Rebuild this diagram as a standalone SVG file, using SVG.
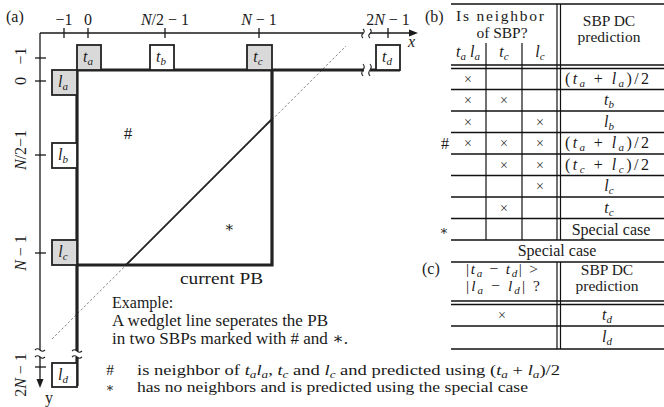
<svg xmlns="http://www.w3.org/2000/svg" width="664" height="407" viewBox="0 0 664 407" font-family="'Liberation Serif', 'DejaVu Serif', serif">
<style>
text{font-family:"Liberation Serif","DejaVu Serif",serif;fill:#1a1a1a;font-size:16px}
.it{font-style:italic}
.s{font-size:11px;font-style:italic}
.mid{text-anchor:middle}
.thin{stroke:#1a1a1a;stroke-width:1.3;fill:none}
.thick{stroke:#222;stroke-width:3.2;fill:none}
.box{stroke:#222;stroke-width:1.8}
.gray{fill:#d9d9d9}
.wh{fill:#fff}
.tl{stroke:#111;stroke-width:1.7;fill:none}
.vl{stroke:#111;stroke-width:1.2;fill:none}
.x{font-size:14px;fill:#333}
.sq{stroke:#222;stroke-width:1.1;fill:none}
.b{font-size:15.5px}
</style>

<text x="6" y="22">(a)</text>

<g id="axes">
  <line class="thin" x1="40" y1="33" x2="411" y2="33"/>
  <polygon points="409,29.5 418,33 409,36.5" fill="#1a1a1a"/>
  <line class="thin" x1="40" y1="33" x2="40" y2="381"/>
  <polygon points="36.5,379 40,388 43.5,379" fill="#1a1a1a"/>
  <g class="thin">
    <line x1="64" y1="28" x2="64" y2="38"/>
    <line x1="88" y1="28" x2="88" y2="38"/>
    <line x1="165" y1="28" x2="165" y2="38"/>
    <line x1="259" y1="28" x2="259" y2="38"/>
    <line x1="388" y1="28" x2="388" y2="38"/>
    <line x1="35" y1="58" x2="46" y2="58"/>
    <line x1="35" y1="81" x2="46" y2="81"/>
    <line x1="35" y1="155" x2="46" y2="155"/>
    <line x1="35" y1="253" x2="46" y2="253"/>
    <line x1="35" y1="367" x2="46" y2="367"/>
  </g>
  <rect x="363" y="29" width="7" height="9" fill="#fff"/>
  <path class="sq" d="M363,29 q2.5,2.2 0,4.5 q-2.5,2.2 0,4.5 M370,29 q2.5,2.2 0,4.5 q-2.5,2.2 0,4.5"/>
  <rect x="35" y="350" width="11" height="7" fill="#fff"/>
  <path class="sq" d="M35,350 q2.5,-2.5 5,0 q2.5,2.5 5,0 M35,357 q2.5,-2.5 5,0 q2.5,2.5 5,0"/>
  <text class="mid" x="64" y="25">−1</text>
  <text class="mid" x="88" y="25">0</text>
  <text class="mid" x="165" y="25"><tspan class="it">N</tspan>/2 − 1</text>
  <text class="mid" x="259" y="25"><tspan class="it">N</tspan> − 1</text>
  <text class="mid" x="388" y="25">2<tspan class="it">N</tspan> − 1</text>
  <text class="it" x="408" y="47">x</text>
  <text x="45" y="403">y</text>
  <text class="mid" transform="translate(26,56) rotate(-90)">−1</text>
  <text class="mid" transform="translate(26,81) rotate(-90)">0</text>
  <text class="mid" transform="translate(26,150) rotate(-90)"><tspan class="it">N</tspan>/2−1</text>
  <text class="mid" transform="translate(26,253) rotate(-90)"><tspan class="it">N</tspan> − 1</text>
  <text class="mid" transform="translate(26,375) rotate(-90)">2<tspan class="it">N</tspan> − 1</text>
</g>

<g id="wedglet">
  <line x1="52" y1="339" x2="346" y2="46" stroke="#888" stroke-width="1" stroke-dasharray="2.5,2"/>
  <line x1="126" y1="265" x2="272" y2="119" stroke="#222" stroke-width="1.8"/>
</g>

<g id="pb">
  <path class="thick" d="M77,70 H400 M77,70 V386 M77,265 H272 V70"/>
  <rect x="364" y="64" width="6" height="12" fill="#fff"/>
  <path class="sq" d="M363,64 q2.5,3 0,6 q-2.5,3 0,6 M370,64 q2.5,3 0,6 q-2.5,3 0,6"/>
  <rect x="72" y="351" width="10" height="6" fill="#fff"/>
  <path class="sq" d="M72,351 q2.5,-2.5 5,0 q2.5,2.5 5,0 M72,357 q2.5,-2.5 5,0 q2.5,2.5 5,0"/>
  <text x="180" y="284" textLength="83" lengthAdjust="spacingAndGlyphs">current PB</text>
  <text class="mid" x="128" y="139" style="font-size:17px">#</text>
  <text class="mid" x="229" y="232" style="font-size:15px">∗</text>
</g>

<g id="ta"><rect class="box gray" x="77" y="45" width="24" height="25"/><text class="mid" x="88" y="62"><tspan class="it">t</tspan><tspan class="s" dy="3">a</tspan></text></g>
<g id="tb"><rect class="box wh" x="150" y="45" width="24" height="25"/><text class="mid" x="161" y="62"><tspan class="it">t</tspan><tspan class="s" dy="3">b</tspan></text></g>
<g id="tc"><rect class="box gray" x="247" y="45" width="25" height="25"/><text class="mid" x="258" y="62"><tspan class="it">t</tspan><tspan class="s" dy="3">c</tspan></text></g>
<g id="td"><rect class="box wh" x="376" y="45" width="24" height="25"/><text class="mid" x="387" y="62"><tspan class="it">t</tspan><tspan class="s" dy="3">d</tspan></text></g>
<g id="la"><rect class="box gray" x="52" y="70" width="25" height="25"/><text class="mid" x="63" y="87"><tspan class="it">l</tspan><tspan class="s" dy="3">a</tspan></text></g>
<g id="lb"><rect class="box wh" x="52" y="143" width="25" height="25"/><text class="mid" x="63" y="160"><tspan class="it">l</tspan><tspan class="s" dy="3">b</tspan></text></g>
<g id="lc"><rect class="box gray" x="52" y="240" width="25" height="25"/><text class="mid" x="63" y="257"><tspan class="it">l</tspan><tspan class="s" dy="3">c</tspan></text></g>
<g id="ld"><rect class="box wh" x="52" y="363" width="25" height="24"/><text class="mid" x="63" y="380"><tspan class="it">l</tspan><tspan class="s" dy="3">d</tspan></text></g>

<g id="notes">
  <text x="112" y="308">Example:</text>
  <text x="112" y="326" textLength="216" lengthAdjust="spacingAndGlyphs">A wedglet line seperates the PB</text>
  <text x="112" y="344" textLength="236" lengthAdjust="spacingAndGlyphs">in two SBPs marked with # and ∗.</text>
  <text class="mid b" x="110" y="375">#</text>
  <text class="mid" x="110" y="392" style="font-size:13px">∗</text>
  <text class="b" x="137" y="375" textLength="423" lengthAdjust="spacingAndGlyphs">is neighbor of <tspan class="it">t</tspan><tspan class="s" dy="2.5">a</tspan><tspan class="it" dy="-2.5">l</tspan><tspan class="s" dy="2.5">a</tspan><tspan dy="-2.5">, </tspan><tspan class="it">t</tspan><tspan class="s" dy="2.5">c</tspan><tspan dy="-2.5"> and </tspan><tspan class="it">l</tspan><tspan class="s" dy="2.5">c</tspan><tspan dy="-2.5"> and predicted using  (</tspan><tspan class="it">t</tspan><tspan class="s" dy="2.5">a</tspan><tspan dy="-2.5"> + </tspan><tspan class="it">l</tspan><tspan class="s" dy="2.5">a</tspan><tspan dy="-2.5">)/2</tspan></text>
  <text class="b" x="137" y="392" textLength="391" lengthAdjust="spacingAndGlyphs">has no neighbors and is predicted using the special case</text>
</g>

<g id="table-b">
  <text x="425" y="22">(b)</text>
  <line class="tl" x1="451" y1="4" x2="664" y2="4"/>
  <line class="vl" x1="557" y1="4" x2="557" y2="240"/>
  <line class="vl" x1="560.5" y1="4" x2="560.5" y2="240"/>
  <line class="vl" x1="486" y1="43" x2="486" y2="240"/>
  <line class="vl" x1="522" y1="43" x2="522" y2="240"/>
  <line class="tl" x1="451" y1="65" x2="664" y2="65"/>
  <line class="tl" x1="451" y1="68.5" x2="664" y2="68.5"/>
  <g class="tl">
    <line x1="451" y1="89.5" x2="664" y2="89.5"/>
    <line x1="451" y1="111" x2="664" y2="111"/>
    <line x1="451" y1="132.5" x2="664" y2="132.5"/>
    <line x1="451" y1="154" x2="664" y2="154"/>
    <line x1="451" y1="175.5" x2="664" y2="175.5"/>
    <line x1="451" y1="197" x2="664" y2="197"/>
    <line x1="451" y1="218.5" x2="664" y2="218.5"/>
    <line x1="451" y1="240" x2="664" y2="240"/>
  </g>
  <text class="mid b" x="500" y="21" textLength="88">Is neighbor</text>
  <text class="mid b" x="502" y="38">of SBP?</text>
  <text class="mid b" x="609" y="26">SBP DC</text>
  <text class="mid b" x="609" y="42">prediction</text>
  <text class="mid" x="468" y="57"><tspan class="it">t</tspan><tspan class="s" dy="3">a</tspan><tspan class="it" dy="-3"> l</tspan><tspan class="s" dy="3">a</tspan></text>
  <text class="mid" x="504" y="57"><tspan class="it">t</tspan><tspan class="s" dy="3">c</tspan></text>
  <text class="mid" x="540" y="57"><tspan class="it">l</tspan><tspan class="s" dy="3">c</tspan></text>

  <g>
    <text class="mid x" x="468" y="84">×</text>
    <text class="mid x" x="468" y="105">×</text><text class="mid x" x="504" y="105">×</text>
    <text class="mid x" x="468" y="127">×</text><text class="mid x" x="540" y="127">×</text>
    <text class="mid x" x="468" y="148">×</text><text class="mid x" x="504" y="148">×</text><text class="mid x" x="540" y="148">×</text>
    <text class="mid x" x="504" y="170">×</text><text class="mid x" x="540" y="170">×</text>
    <text class="mid x" x="540" y="191">×</text>
    <text class="mid x" x="504" y="213">×</text>
  </g>
  <text class="mid" x="445" y="149">#</text>
  <text class="mid" x="444" y="235" style="font-size:13px">∗</text>

  <text class="mid" x="607" y="84" textLength="84" lengthAdjust="spacing">(<tspan class="it">t</tspan><tspan class="s" dy="3">a</tspan><tspan dy="-3"> + </tspan><tspan class="it">l</tspan><tspan class="s" dy="3">a</tspan><tspan dy="-3">)/2</tspan></text>
  <text class="mid" x="609" y="105"><tspan class="it">t</tspan><tspan class="s" dy="3">b</tspan></text>
  <text class="mid" x="609" y="127"><tspan class="it">l</tspan><tspan class="s" dy="3">b</tspan></text>
  <text class="mid" x="607" y="148" textLength="84" lengthAdjust="spacing">(<tspan class="it">t</tspan><tspan class="s" dy="3">a</tspan><tspan dy="-3"> + </tspan><tspan class="it">l</tspan><tspan class="s" dy="3">a</tspan><tspan dy="-3">)/2</tspan></text>
  <text class="mid" x="607" y="170" textLength="84" lengthAdjust="spacing">(<tspan class="it">t</tspan><tspan class="s" dy="3">c</tspan><tspan dy="-3"> + </tspan><tspan class="it">l</tspan><tspan class="s" dy="3">c</tspan><tspan dy="-3">)/2</tspan></text>
  <text class="mid" x="609" y="191"><tspan class="it">l</tspan><tspan class="s" dy="3">c</tspan></text>
  <text class="mid" x="609" y="213"><tspan class="it">t</tspan><tspan class="s" dy="3">c</tspan></text>
  <text class="mid" x="611" y="235">Special case</text>
  <text class="mid" x="557" y="256">Special case</text>
</g>

<g id="table-c">
  <text x="422" y="274">(c)</text>
  <line class="tl" x1="451" y1="262" x2="664" y2="262"/>
  <line class="vl" x1="557" y1="262" x2="557" y2="349"/>
  <line class="vl" x1="560.5" y1="262" x2="560.5" y2="349"/>
  <line class="tl" x1="451" y1="301" x2="664" y2="301"/>
  <line class="tl" x1="451" y1="304.5" x2="664" y2="304.5"/>
  <line class="tl" x1="451" y1="326" x2="664" y2="326"/>
  <line class="tl" x1="451" y1="349" x2="664" y2="349"/>
  <text class="mid b" x="502" y="274" textLength="72" lengthAdjust="spacing">|<tspan class="it">t</tspan><tspan class="s" dy="3">a</tspan><tspan dy="-3"> − </tspan><tspan class="it">t</tspan><tspan class="s" dy="3">d</tspan><tspan dy="-3">| &gt;</tspan></text>
  <text class="mid b" x="503" y="291" textLength="74" lengthAdjust="spacing">|<tspan class="it">l</tspan><tspan class="s" dy="3">a</tspan><tspan dy="-3"> − </tspan><tspan class="it">l</tspan><tspan class="s" dy="3">d</tspan><tspan dy="-3">|  ?</tspan></text>
  <text class="mid b" x="607" y="275">SBP DC</text>
  <text class="mid b" x="607" y="291">prediction</text>
  <text class="mid x" x="502" y="320">×</text>
  <text class="mid" x="607" y="320"><tspan class="it">t</tspan><tspan class="s" dy="3">d</tspan></text>
  <text class="mid" x="607" y="342"><tspan class="it">l</tspan><tspan class="s" dy="3">d</tspan></text>
</g>
</svg>
